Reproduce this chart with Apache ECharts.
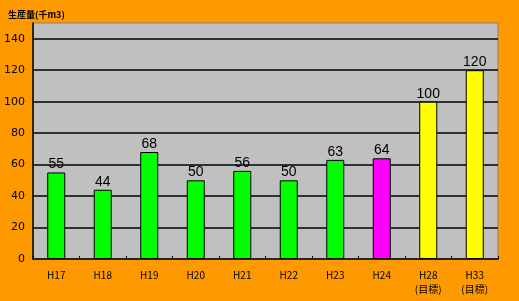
<!DOCTYPE html>
<html><head><meta charset="utf-8">
<script src="https://cdn.jsdelivr.net/npm/echarts@6/dist/echarts.min.js"></script>
<style>html,body{margin:0;padding:0;background:#FF9900;}#c{width:519px;height:301px;}</style>
</head><body><div id="c"></div>
<script>
var categories = ['H17','H18','H19','H20','H21','H22','H23','H24','H28\n(目標)','H33\n(目標)'];
var values = [55,44,68,50,56,50,63,64,100,120];
var barColors = ['#00FF00','#00FF00','#00FF00','#00FF00','#00FF00','#00FF00','#00FF00','#FF00FF','#FFFF00','#FFFF00'];
var yTicks = [0,20,40,60,80,100,120,140];
var yTitle = '生産量(千m3)';

var chart = echarts.init(document.getElementById('c'));
chart.setOption({
  backgroundColor: '#FF9900',
  animation: false,
  title: {text: yTitle, left: 3, top: 5, textStyle: {fontSize: 9, fontWeight: 'bold', color: '#000', fontFamily: 'Noto Sans CJK JP'}},
  grid: {left: 33, right: 21, top: 23, bottom: 42, show: true, backgroundColor: '#C0C0C0', borderColor: '#808080', borderWidth: 1},
  xAxis: {
    type: 'category', data: categories,
    axisLine: {lineStyle: {color: '#000', width: 1.5}},
    axisTick: {show: true, inside: true, length: 3, lineStyle: {color: '#000'}},
    axisLabel: {color: '#000', fontSize: 10, margin: 9, lineHeight: 14, fontFamily: 'Noto Sans CJK JP'}
  },
  yAxis: {
    type: 'value', min: 0, max: 150, interval: 10,
    axisLine: {show: true, lineStyle: {color: '#000', width: 1.5}},
    axisTick: {show: false},
    splitLine: {show: false},
    axisLabel: {color: '#000', fontSize: 11, margin: 8, fontFamily: 'DejaVu Sans',
      formatter: function(v){ return yTicks.indexOf(v) >= 0 ? String(v) : ''; }}
  },
  series: [{
    type: 'line', data: [], z: 1,
    markLine: {
      silent: true, symbol: 'none', label: {show: false},
      lineStyle: {color: '#000', width: 1.5, type: 'solid'},
      data: yTicks.filter(function(v){return v>0;}).map(function(v){ return {yAxis: v}; })
    }
  }, {
    type: 'bar', barWidth: 18, z: 5,
    data: values.map(function(v, i){ return {value: v, itemStyle: {color: barColors[i]}}; }),
    itemStyle: {borderColor: '#000', borderWidth: 1},
    label: {show: true, position: 'top', distance: 1, color: '#000', fontSize: 14, fontFamily: 'Liberation Sans'}
  }]
});
</script></body></html>
